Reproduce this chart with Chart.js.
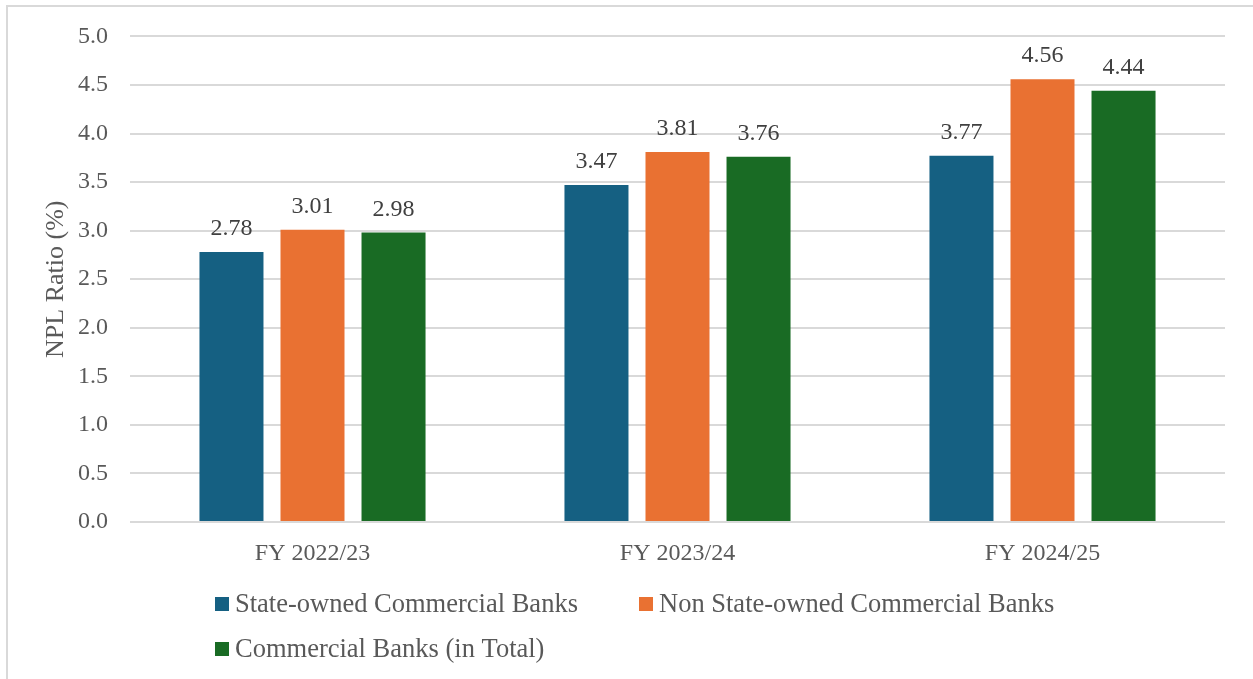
<!DOCTYPE html>
<html>
<head>
<meta charset="utf-8">
<script src="https://cdn.jsdelivr.net/npm/chart.js@4.4.1/dist/chart.umd.min.js"></script>
<style>
  html, body { margin: 0; padding: 0; background: #fff; }
  #wrap { position: relative; width: 1253px; height: 679px; }
  #frame { position: absolute; left: 6px; top: 5px; right: 0; bottom: 0;
           border-left: 2px solid #d9d9d9; border-top: 2px solid #d9d9d9; pointer-events: none; }
  canvas { position: absolute; left: 0; top: 0; }
</style>
</head>
<body>
<div id="wrap">
  <canvas id="nplChart" width="1253" height="679"></canvas>
  <div id="frame"></div>
</div>
<script>
const years = ['FY 2022/23', 'FY 2023/24', 'FY 2024/25'];
const stateOwned = [2.78, 3.47, 3.77];
const nonStateOwned = [3.01, 3.81, 4.56];
const allBanks = [2.98, 3.76, 4.44];
const seriesNames = ['State-owned Commercial Banks', 'Non State-owned Commercial Banks', 'Commercial Banks (in Total)'];
const seriesColors = ['#156082', '#E97132', '#196B24'];

const FONT = '"Liberation Serif", "Times New Roman", serif';

// value labels above each bar
const barValues = {
  id: 'barValues',
  afterDatasetsDraw(chart) {
    const ctx = chart.ctx;
    ctx.save();
    ctx.font = '24px ' + FONT;
    ctx.fillStyle = '#404040';
    ctx.textAlign = 'center';
    ctx.textBaseline = 'alphabetic';
    chart.data.datasets.forEach((ds, i) => {
      chart.getDatasetMeta(i).data.forEach((bar, j) => {
        ctx.fillText(ds.data[j].toFixed(2), bar.x, bar.y - 17);
      });
    });
    ctx.restore();
  }
};

// two-row legend, left aligned under the plot
const bottomLegend = {
  id: 'bottomLegend',
  afterDraw(chart) {
    const ctx = chart.ctx;
    const left = chart.chartArea.left + 85;
    const spots = [[left, 604], [left + 424, 604], [left, 649]];
    ctx.save();
    ctx.font = '26.5px ' + FONT;
    ctx.textBaseline = 'middle';
    chart.data.datasets.forEach((ds, i) => {
      const [x, y] = spots[i];
      ctx.fillStyle = ds.backgroundColor;
      ctx.fillRect(x, y - 7, 14, 14);
      ctx.fillStyle = '#595959';
      ctx.fillText(ds.label, x + 20, y + 1);
    });
    ctx.restore();
  }
};

const datasets = [stateOwned, nonStateOwned, allBanks].map((vals, i) => ({
  label: seriesNames[i],
  data: vals,
  backgroundColor: seriesColors[i],
  borderWidth: 0,
  barPercentage: 0.79,
  categoryPercentage: 0.666
}));

new Chart(document.getElementById('nplChart'), {
  type: 'bar',
  data: { labels: years, datasets: datasets },
  options: {
    responsive: false,
    animation: false,
    layout: { padding: { left: 18, right: 28, top: 35, bottom: 0 } },
    plugins: {
      legend: { display: false },
      tooltip: { enabled: false }
    },
    scales: {
      x: {
        grid: { display: false },
        border: { display: false },
        ticks: { color: '#595959', font: { family: FONT, size: 24 }, padding: 9 },
        afterFit(scale) { scale.height = 157; }
      },
      y: {
        min: 0,
        max: 5,
        grid: { color: '#d9d9d9', lineWidth: 2, drawTicks: false },
        border: { display: false },
        ticks: {
          stepSize: 0.5,
          color: '#595959',
          font: { family: FONT, size: 24 },
          padding: 22,
          callback: v => v.toFixed(1)
        },
        title: {
          display: true,
          text: 'NPL Ratio (%)',
          color: '#595959',
          font: { family: FONT, size: 26 },
          padding: { top: 23, bottom: 0 }
        },
        afterFit(scale) { scale.width = 112; }
      }
    }
  },
  plugins: [barValues, bottomLegend]
});
</script>
</body>
</html>
